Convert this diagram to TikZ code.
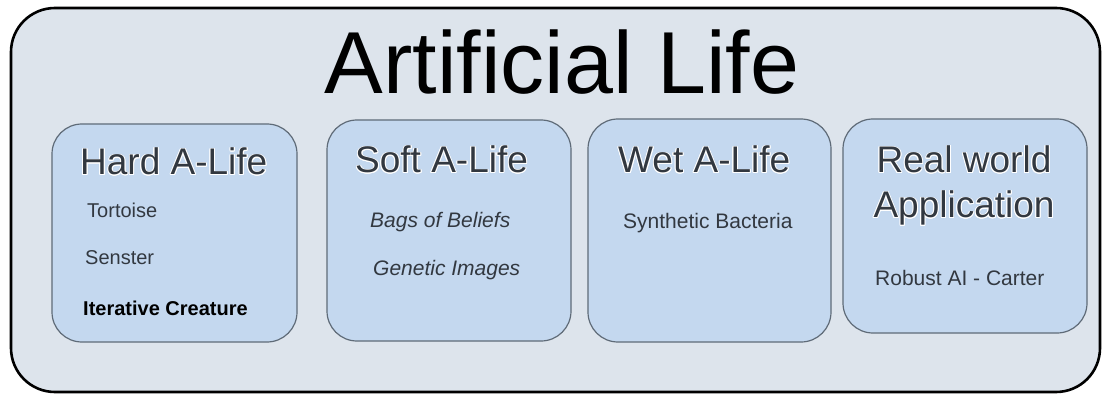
\documentclass[tikz,border=0pt]{standalone}
\usepackage{fontspec}
\setmainfont{Liberation Sans}
\usepackage{xcolor}
\usepackage[copies]{contour}
\contourlength{0.9pt}
\usetikzlibrary{positioning}
\definecolor{outerfill}{RGB}{221,228,236}
\definecolor{panelfill}{RGB}{196,216,239}
\definecolor{paneldraw}{RGB}{95,107,120}
\definecolor{paneltext}{RGB}{50,56,64}
\newcommand{\halo}[1]{\contour{white}{#1}}

\begin{document}
\begin{tikzpicture}[
  x=1pt,y=-1pt,
  outer/.style={draw=black,line width=2.6pt,fill=outerfill,rounded corners=44pt,minimum width=1089pt,minimum height=384pt,inner sep=0pt},
  panel/.style={draw=paneldraw,line width=1.2pt,fill=panelfill,rounded corners=30pt,inner sep=0pt},
  title/.style={font=\fontsize{88}{96}\selectfont,anchor=base,inner sep=0pt},
  head/.style={font=\fontsize{37}{42}\selectfont,text=paneltext,anchor=base west,inner sep=0pt},
  item/.style={font=\fontsize{21}{24}\selectfont,text=paneltext,anchor=base west,inner sep=0pt}
]
  \useasboundingbox (0,0) rectangle (1105,398);
  \node[outer] (frame) at (555.5,200) {};
  \node[title] (alife) at (562,94) {Artificial Life};

  \node[panel,minimum width=245pt,minimum height=218pt] (hard) at (174.5,233) {};
  \node[panel,minimum width=244pt,minimum height=221pt] (soft) at (449,230.5) {};
  \node[panel,minimum width=243pt,minimum height=223pt] (wet) at (709.5,230.5) {};
  \node[panel,minimum width=244pt,minimum height=214pt] (real) at (965,226) {};

  \node[head] (hardhead) at (80,175) {\halo{Hard A-Life}};
  \node[item,font=\fontsize{20}{24}\selectfont] (tortoise) at (87,218) {Tortoise};
  \node[item,font=\fontsize{20}{24}\selectfont] (senster) at (85,264) {Senster};
  \node[item,font=\fontsize{20}{24}\selectfont\bfseries,text=black] (iterative) at (83,315) {Iterative Creature};

  \node[head] (softhead) at (355,173) {\halo{Soft A-Life}};
  \node[item,font=\fontsize{21}{24}\selectfont\itshape] (bags) at (370,227) {Bags of Beliefs};
  \node[item,font=\fontsize{21}{24}\selectfont\itshape] (genetic) at (373,275) {Genetic Images};

  \node[head] (wethead) at (618,173) {\halo{Wet A-Life}};
  \node[item] (bacteria) at (623,228) {Synthetic Bacteria};

  \node[head,anchor=base] (realtop) at (964,173) {\halo{Real world}};
  \node[head,anchor=base] (realbot) at (964,218) {\halo{Application}};
  \node[item] (robust) at (875,285) {Robust AI - Carter};
\end{tikzpicture}
\end{document}
